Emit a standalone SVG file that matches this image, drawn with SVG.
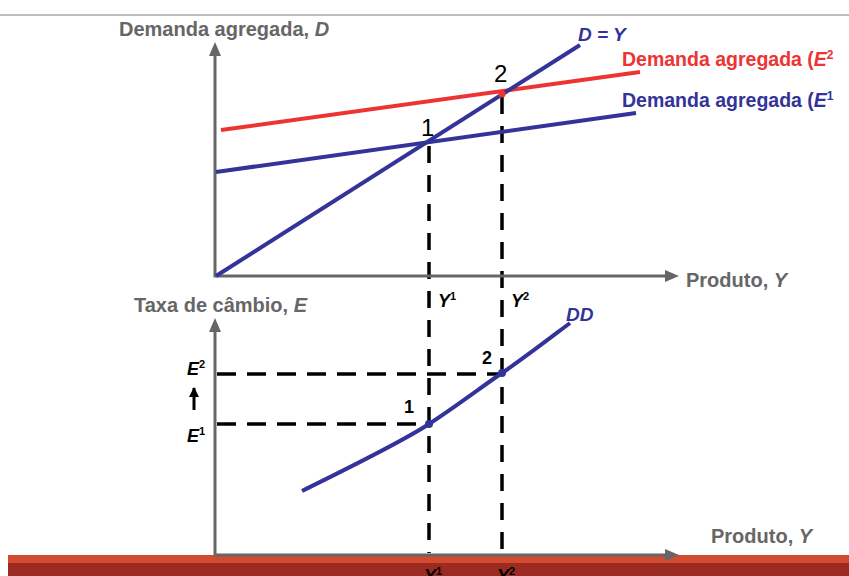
<svg xmlns="http://www.w3.org/2000/svg" width="849" height="576" viewBox="0 0 849 576">
<defs>
<marker id="ahk" viewBox="0 0 10 10" refX="9" refY="5" markerWidth="3.5" markerHeight="3.5" orient="auto" markerUnits="strokeWidth">
<path d="M0,0 L10,5 L0,10 Z" fill="#000"/>
</marker>
</defs>
<style>
.ax{stroke:#666;stroke-width:3;fill:none}
.lab{font-family:"Liberation Sans",Arial,sans-serif;font-weight:bold;font-size:20px;fill:#666}
.dash{stroke:#000;stroke-width:3.5;fill:none}
.blue{stroke:#33339a;stroke-width:4;fill:none}
.red{stroke:#ee3333;stroke-width:4;fill:none}
.k{font-family:"Liberation Sans",Arial,sans-serif;font-weight:bold;font-style:italic;fill:#000}
.sup{font-style:normal;font-weight:bold}
.num{font-family:"Liberation Sans",Arial,sans-serif;fill:#000}
</style>
<rect width="849" height="576" fill="#fff"/>
<line x1="0" y1="15" x2="849" y2="15" stroke="#bdbdbd" stroke-width="2"/>

<!-- bottom bars -->
<rect x="8" y="555" width="841" height="9" fill="#d24b2e"/>
<rect x="8" y="563" width="841" height="13" fill="#9b2a20"/>

<g id="connectors">
<line class="dash" x1="429" y1="146" x2="429" y2="553" stroke-dasharray="17 12"/>
<line class="dash" x1="502" y1="97" x2="502" y2="553" stroke-dasharray="17 12"/>
<line class="dash" x1="217" y1="374" x2="502" y2="374" stroke-dasharray="19 11"/>
<line class="dash" x1="217" y1="424" x2="429" y2="424" stroke-dasharray="19 11"/>
</g>

<g id="top-axes">
<polyline class="ax" points="215,52 215,276 670,276"/>
<path d="M215,42 L209,56 L221,56 Z" fill="#666"/>
<path d="M679,276 L665,270 L665,282 Z" fill="#666"/>
<text class="lab" x="119" y="36">Demanda agregada, <tspan font-style="italic">D</tspan></text>
<text class="lab" x="686" y="287">Produto, <tspan font-style="italic">Y</tspan></text>
</g>

<g id="top-curves">
<line class="red" x1="221" y1="130" x2="640" y2="72"/>
<line class="blue" x1="216" y1="172" x2="636" y2="113"/>
<line class="blue" x1="216" y1="276" x2="580" y2="45"/>
<circle cx="502" cy="94" r="3.5" fill="#ee3333"/>
<text x="578" y="41" font-family="Liberation Sans,Arial,sans-serif" font-weight="bold" font-style="italic" font-size="19" fill="#33339a">D = Y</text>
<text x="622" y="66" font-family="Liberation Sans,Arial,sans-serif" font-weight="bold" font-size="19.5" fill="#ee3333">Demanda agregada (<tspan font-style="italic">E</tspan><tspan font-size="12" dy="-7">2</tspan></text>
<text x="622" y="107" font-family="Liberation Sans,Arial,sans-serif" font-weight="bold" font-size="19.5" fill="#33339a">Demanda agregada (<tspan font-style="italic">E</tspan><tspan font-size="12" dy="-7">1</tspan></text>
<text class="num" x="494" y="82" font-size="24">2</text>
<text class="num" x="421" y="136" font-size="24">1</text>
<text class="k" x="438" y="307" font-size="18">Y<tspan class="sup" font-size="11" dy="-7">1</tspan></text>
<text class="k" x="511" y="307" font-size="18">Y<tspan class="sup" font-size="11" dy="-7">2</tspan></text>
</g>

<g id="bottom-axes">
<polyline class="ax" points="215,328 215,555 670,555"/>
<path d="M215,318 L209,332 L221,332 Z" fill="#666"/>
<path d="M679,555 L665,549 L665,561 Z" fill="#666"/>
<text class="lab" x="134" y="312">Taxa de câmbio, <tspan font-style="italic">E</tspan></text>
<text class="lab" x="711" y="543">Produto, <tspan font-style="italic">Y</tspan></text>
</g>

<g id="dd-curve">
<path class="blue" d="M302,491 C350,467 400,443 429,424 S480,388 502,373 S550,338 570,323"/>
<circle cx="429" cy="424" r="4" fill="#33339a"/>
<circle cx="502" cy="373" r="4" fill="#33339a"/>
<text x="566" y="321" font-family="Liberation Sans,Arial,sans-serif" font-weight="bold" font-style="italic" font-size="19" fill="#33339a">DD</text>
<text class="num" x="482" y="364" font-size="18" font-weight="bold">2</text>
<text class="num" x="404" y="413" font-size="18" font-weight="bold">1</text>
</g>

<g id="e-labels">
<text class="k" x="187" y="375" font-size="18">E<tspan class="sup" font-size="11" dy="-7">2</tspan></text>
<text class="k" x="187" y="442" font-size="18">E<tspan class="sup" font-size="11" dy="-7">1</tspan></text>
<line x1="194" y1="410" x2="194" y2="388" stroke="#000" stroke-width="3" marker-end="url(#ahk)"/>
<text class="k" x="424" y="582" font-size="18">Y<tspan class="sup" font-size="11" dy="-7">1</tspan></text>
<text class="k" x="497" y="582" font-size="18">Y<tspan class="sup" font-size="11" dy="-7">2</tspan></text>
</g>
</svg>
